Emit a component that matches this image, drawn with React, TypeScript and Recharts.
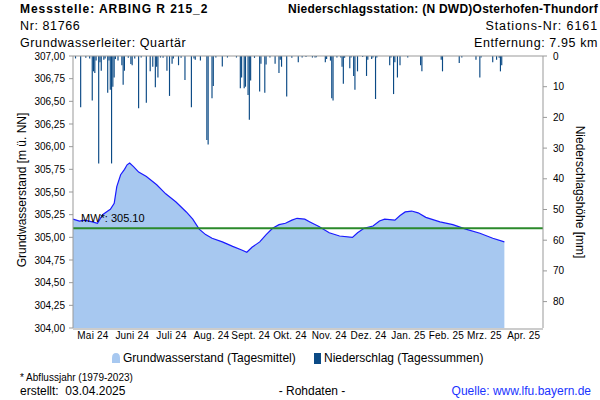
import { Area, Bar, ComposedChart, ReferenceLine, XAxis, YAxis } from "recharts";

// day offsets counted from 1 May 2024
const monthLabels = ["Mai 24", "Juni 24", "Juli 24", "Aug. 24", "Sept. 24", "Okt. 24", "Nov. 24", "Dez. 24", "Jan. 25", "Feb. 25", "Mrz. 25", "Apr. 25"];
const monthStarts = [0, 31, 61, 92, 123, 153, 184, 214, 245, 276, 304, 335, 365];

const gwTicks = [304, 304.25, 304.5, 304.75, 305, 305.25, 305.5, 305.75, 306, 306.25, 306.5, 306.75, 307];
const nsTicks = [0, 10, 20, 30, 40, 50, 60, 70, 80];

const gwDays = [0, 5, 9, 15, 19, 23, 27, 29, 32, 34, 37, 40, 42, 44, 47, 51, 57, 65, 72, 80, 88, 93, 98, 103, 108, 116, 124, 131, 135, 139, 145, 150, 155, 160, 165, 170, 174, 180, 184, 191, 199, 207, 217, 221, 226, 233, 238, 242, 250, 254, 258, 263, 268, 274, 285, 295, 305, 316, 326, 335];
const gwLevels = [305.2, 305.18, 305.19, 305.17, 305.155, 305.25, 305.29, 305.31, 305.375, 305.56, 305.69, 305.75, 305.8, 305.82, 305.78, 305.72, 305.67, 305.58, 305.48, 305.39, 305.28, 305.2, 305.09, 305.03, 304.99, 304.95, 304.9, 304.86, 304.835, 304.89, 304.95, 305.03, 305.1, 305.14, 305.155, 305.19, 305.21, 305.2, 305.17, 305.12, 305.05, 305.015, 305.0, 305.05, 305.1, 305.125, 305.18, 305.2, 305.19, 305.24, 305.28, 305.29, 305.27, 305.22, 305.17, 305.14, 305.09, 305.045, 304.99, 304.95];

const nsDays = [2, 6, 10, 13, 15, 16, 17, 18, 20, 21, 22, 24, 25, 27, 28, 29, 30, 31, 32, 33, 35, 38, 39, 40, 43, 45, 46, 48, 51, 53, 57, 60, 62, 64, 65, 66, 68, 70, 73, 75, 77, 78, 82, 84, 87, 92, 94, 95, 99, 104, 105, 108, 109, 111, 116, 120, 127, 130, 131, 133, 134, 136, 137, 138, 141, 145, 146, 149, 150, 153, 157, 160, 161, 162, 166, 170, 175, 178, 181, 186, 188, 189, 196, 197, 200, 201, 202, 205, 208, 209, 210, 211, 215, 216, 218, 219, 221, 225, 228, 229, 232, 233, 235, 236, 246, 247, 249, 250, 252, 254, 260, 270, 271, 286, 287, 300, 302, 313, 316, 317, 326, 329, 331, 332, 333];
const nsAmounts = [0.8, 16.7, 0.6, 0.8, 14.5, 5, 5.5, 1.5, 35, 2, 4.8, 1.2, 0.8, 12, 1.5, 11, 35, 10, 7, 1, 1.5, 3, 9.4, 4.8, 0.6, 2.6, 3, 0.8, 17, 0.5, 15.2, 5, 3.5, 10.2, 3.5, 7, 0.5, 0.6, 4.8, 13, 2.5, 0.8, 3, 0.6, 7.8, 16.7, 0.8, 1.2, 1.5, 27.4, 28.8, 13.8, 9.8, 0.5, 3.4, 0.5, 0.5, 10.5, 7, 10.5, 10, 12.7, 20.8, 8, 0.6, 11.6, 2.5, 12, 2.8, 0.5, 2.5, 5.5, 1.2, 3.5, 13.2, 0.6, 2, 0.5, 0.3, 0.5, 0.5, 0.4, 2, 1, 1.5, 13.8, 14.5, 0.5, 0.5, 3.5, 9, 0.6, 4, 0.5, 6.5, 11, 5, 0.3, 6.5, 1.2, 1, 0.5, 14, 0.5, 3, 0.5, 12.4, 2, 7, 3, 0.5, 3, 5, 1.2, 5, 2.3, 0.5, 1.2, 7, 0.5, 2, 1.2, 0.6, 5, 3];

const meanLevel = 305.1;

type Row = { d: number; gw?: number; ns?: number };

const rowMap = new Map<number, Row>();
gwDays.forEach((d, i) => rowMap.set(d, { ...(rowMap.get(d) ?? { d }), gw: gwLevels[i] }));
nsDays.forEach((d, i) => rowMap.set(d, { ...(rowMap.get(d) ?? { d }), ns: nsAmounts[i] }));
const rows = [...rowMap.values()].sort((a, b) => a.d - b.d);

// labels sit in the middle of each month, tick marks on the month boundaries
const monthMids = monthLabels.map((_, i) => (monthStarts[i] + monthStarts[i + 1]) / 2);

const fmtLevel = (v: number) => v.toFixed(2).replace(".", ",");

const axisGrey = "#999999";
const tickFont = { fontSize: 10, fill: "#000" };

function MwLabel(props: any) {
  const { viewBox } = props;
  return (
    <text x={viewBox.x + 8} y={viewBox.y - 6} fontSize={11} fill="#000">
      MW*: 305.10
    </text>
  );
}

export default function App() {
  return (
    <div
      style={{
        position: "absolute",
        left: 0,
        top: 0,
        width: 600,
        height: 400,
        background: "#fff",
        fontFamily: "'Liberation Sans', Arial, sans-serif",
      }}
    >
      <ComposedChart width={600} height={400} data={rows} margin={{ top: 55, right: 0, bottom: 70, left: 0 }}>
        <XAxis
          xAxisId="x"
          dataKey="d"
          type="number"
          domain={[0, 365]}
          ticks={monthStarts}
          interval={0}
          tick={false}
          tickSize={4}
          height={1}
          stroke={axisGrey}
        />
        <XAxis
          xAxisId="lbl"
          dataKey="d"
          type="number"
          domain={[0, 365]}
          ticks={monthMids}
          interval={0}
          tickFormatter={(v: number) => monthLabels[monthMids.indexOf(v)] ?? ""}
          tickLine={false}
          axisLine={false}
          tickSize={0}
          tickMargin={4}
          height={1}
          tick={{ ...tickFont, letterSpacing: 0.2 }}
        />
        <XAxis
          xAxisId="top"
          orientation="top"
          dataKey="d"
          type="number"
          domain={[0, 365]}
          tick={false}
          tickLine={false}
          height={1}
          stroke={axisGrey}
        />
        <YAxis
          yAxisId="gw"
          domain={[304, 307]}
          ticks={gwTicks}
          interval={0}
          tickFormatter={fmtLevel}
          width={73}
          tickSize={4}
          tickMargin={4}
          stroke={axisGrey}
          tick={tickFont}
        />
        <YAxis
          yAxisId="ns"
          orientation="right"
          reversed
          domain={[0, 88.6]}
          allowDataOverflow
          ticks={nsTicks}
          interval={0}
          width={57}
          tickSize={4}
          tickMargin={6}
          stroke={axisGrey}
          tick={{ ...tickFont, textAnchor: "start" }}
        />
        <Area
          xAxisId="x"
          yAxisId="gw"
          type="linear"
          dataKey="gw"
          connectNulls
          stroke="#1a1aff"
          strokeWidth={1.2}
          fill="#a7c8f0"
          fillOpacity={1}
          dot={false}
          isAnimationActive={false}
        />
        <Bar xAxisId="x" yAxisId="ns" dataKey="ns" fill="#0b4a85" barSize={1.3} isAnimationActive={false} />
        <ReferenceLine xAxisId="x" yAxisId="gw" y={meanLevel} stroke="#2b8a2b" strokeWidth={2} label={<MwLabel />} />
      </ComposedChart>

      <svg width={600} height={400} style={{ position: "absolute", left: 0, top: 0, pointerEvents: "none" }}>
        <g fontSize={12} fill="#000" dominantBaseline="central">
          <text x={20} y={9} fontWeight="bold" letterSpacing={0.95}>Messstelle: ARBING R 215_2</text>
          <text x={598} y={9} fontWeight="bold" textAnchor="end" letterSpacing={0.25}>
            Niederschlagsstation: (N DWD)Osterhofen-Thundorf
          </text>
          <text x={20} y={26} fontSize={12.5} letterSpacing={0.6}>Nr: 81766</text>
          <text x={598} y={26} fontSize={12.5} textAnchor="end" letterSpacing={0.9}>Stations-Nr: 6161</text>
          <text x={20} y={43} fontSize={12.5} letterSpacing={0.6}>Grundwasserleiter: Quartär</text>
          <text x={598} y={43} fontSize={12.5} textAnchor="end" letterSpacing={0.6}>Entfernung: 7.95 km</text>
          <text x={22} y={190} textAnchor="middle" transform="rotate(-90 22 190)">Grundwasserstand [m ü. NN]</text>
          <text x={580} y={192} textAnchor="middle" transform="rotate(90 580 192)">Niederschlagshöhe [mm]</text>
        </g>
        <g fontSize={12} fill="#000" dominantBaseline="central">
          <path d="M112,363 L112,358 Q112,353 116,353 Q120,353 120,358 L120,363 Z" fill="#a7c8f0" />
          <text x={123} y={358}>Grundwasserstand (Tagesmittel)</text>
          <rect x={314} y={353} width={7} height={11} fill="#0b4a85" />
          <text x={324} y={358}>Niederschlag (Tagessummen)</text>
        </g>
        <g fill="#000" dominantBaseline="central">
          <text x={20} y={377} fontSize={10}>* Abflussjahr (1979-2023)</text>
          <text x={20} y={391} fontSize={12} xmlSpace="preserve">erstellt:  03.04.2025</text>
          <text x={312} y={391} fontSize={12} textAnchor="middle">- Rohdaten -</text>
          <text x={591} y={391} fontSize={12} textAnchor="end" fill="#1a33ff">Quelle: www.lfu.bayern.de</text>
        </g>
      </svg>
    </div>
  );
}
